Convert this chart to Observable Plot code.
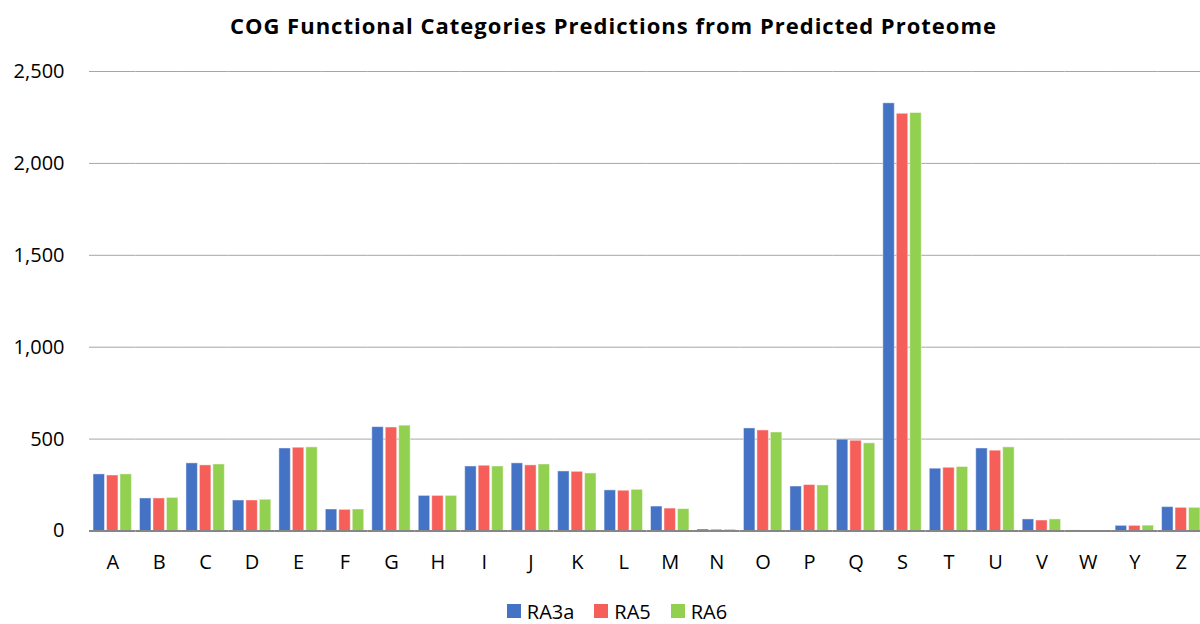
<!DOCTYPE html>
<html>
<head>
<meta charset="utf-8">
<script src="https://cdn.jsdelivr.net/npm/d3@7"></script>
<script src="https://cdn.jsdelivr.net/npm/@observablehq/plot@0.6"></script>
<style>
  html, body { margin: 0; padding: 0; background: #fff; }
  body { width: 1200px; height: 624px; overflow: hidden; font-family: "Open Sans", Lato, sans-serif; color: #000; }
  #title { height: 48px; line-height: 50px; text-align: center; font-weight: bold; font-size: 22px; letter-spacing: 1px; padding-left: 27px; box-sizing: border-box; width: 1200px; color: #000; white-space: nowrap; }
  #legend { height: 46px; display: flex; justify-content: center; align-items: center; gap: 20px; font-size: 20px; padding-left: 34px; box-sizing: border-box; width: 1200px; }
  .item { display: flex; align-items: center; gap: 6px; }
  .sw { width: 14px; height: 14px; display: inline-block; }
  #chart svg { display: block; overflow: visible; }
</style>
</head>
<body>
<div id="title">COG Functional Categories Predictions from Predicted Proteome</div>
<div id="chart"></div>
<div id="legend"></div>
<script>
const categories = ["A","B","C","D","E","F","G","H","I","J","K","L","M","N","O","P","Q","S","T","U","V","W","Y","Z"];
const seriesNames = ["RA3a","RA5","RA6"];
const seriesColors = ["#4472C4","#F65E5A","#92D050"];
const ra3a = [308,177,368,166,449,117,565,191,351,368,324,221,133,8,558,242,497,2327,339,449,63,3,28,130];
const ra5  = [302,177,357,166,453,115,563,191,355,357,322,219,122,7,547,250,491,2270,344,437,57,2,28,126];
const ra6  = [308,180,362,170,455,117,573,191,351,362,313,224,119,7,536,248,477,2274,348,455,63,2,29,126];
const yTicks = [0,500,1000,1500,2000,2500];

const seriesValues = [ra3a, ra5, ra6];
const table = [];
categories.forEach((c, i) => {
  seriesNames.forEach((s, j) => table.push({cat: c, series: s, value: seriesValues[j][i]}));
});

const chart = Plot.plot({
  width: 1200,
  height: 540,
  marginTop: 23,
  marginBottom: 57.5,
  marginLeft: 89,
  marginRight: -4,
  style: { fontFamily: "'Open Sans', Lato, sans-serif", fontSize: "20px", color: "#000", background: "#fff", overflow: "visible" },
  fx: { domain: categories, round: false, padding: 0, paddingInner: 0, paddingOuter: 0, label: null, tickSize: 0, tickPadding: 24, axis: "bottom" },
  x: { domain: seriesNames, round: false, paddingInner: 0.15, paddingOuter: 0.3, axis: null },
  y: { domain: [0, 2500], ticks: yTicks, tickFormat: d3.format(","), label: null, tickSize: 0, tickPadding: 25 },
  color: { domain: seriesNames, range: seriesColors },
  facet: { data: table, x: "cat" },
  marks: [
    Plot.ruleY(yTicks.slice(1), { stroke: "#a6a6a6", strokeWidth: 1 }),
    Plot.barY(table, { x: "series", y: "value", fill: "series", stroke: "#ffffff", strokeOpacity: 0.45, strokeWidth: 1 }),
    Plot.ruleY([0], { stroke: "#868686", strokeWidth: 2 })
  ]
});
document.getElementById("chart").appendChild(chart);

const legend = document.getElementById("legend");
seriesNames.forEach((s, i) => {
  const item = document.createElement("span");
  item.className = "item";
  const sw = document.createElement("span");
  sw.className = "sw";
  sw.style.background = seriesColors[i];
  const t = document.createElement("span");
  t.textContent = s;
  item.appendChild(sw);
  item.appendChild(t);
  legend.appendChild(item);
});
</script>
</body>
</html>
